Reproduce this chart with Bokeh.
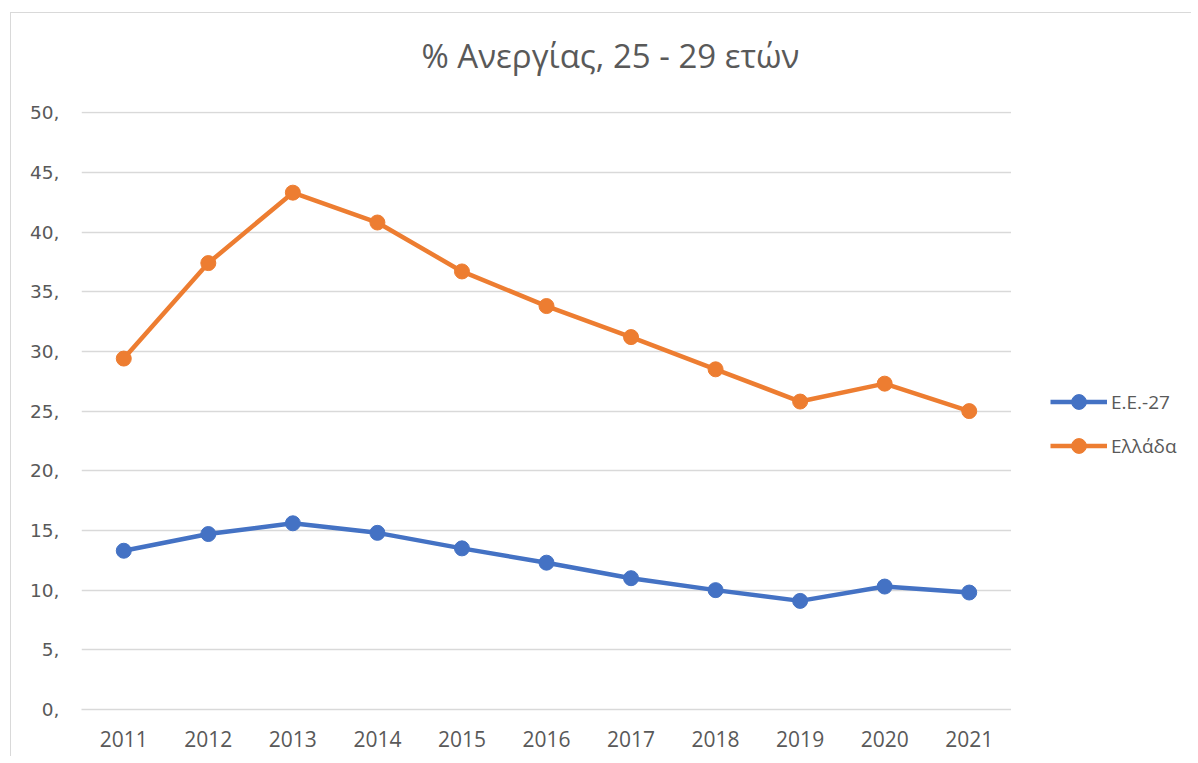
from bokeh.plotting import figure
from bokeh.layouts import row, column
from bokeh.models import (FactorRange, Range1d, Legend, LegendItem, PrintfTickFormatter,
                          FixedTicker, Label)
from bokeh.embed import file_html
from bokeh.resources import INLINE

years = ["2011", "2012", "2013", "2014", "2015", "2016", "2017", "2018", "2019", "2020", "2021"]
eu27 = [13.3, 14.7, 15.6, 14.8, 13.5, 12.3, 11.0, 10.0, 9.1, 10.3, 9.8]
greece = [29.4, 37.4, 43.3, 40.8, 36.7, 33.8, 31.2, 28.5, 25.8, 27.3, 25.0]
series_names = ["Ε.Ε.-27", "Ελλάδα"]
title_text = "% Ανεργίας, 25 - 29 ετών"
y_ticks = [0, 5, 10, 15, 20, 25, 30, 35, 40, 45, 50]

BLUE = "#4472C4"
ORANGE = "#ED7D31"
GREY_TXT = "#595959"
FONT = "Open Sans"
LW = 4.5
MS = 15


def bare(fig):
    fig.outline_line_color = None
    fig.xgrid.grid_line_color = None
    fig.ygrid.grid_line_color = None


# ---- title strip ----
tf = figure(width=1180, height=85, output_backend="svg", toolbar_location=None,
            x_axis_location=None, y_axis_location=None, min_border=0,
            x_range=Range1d(0, 1), y_range=Range1d(0, 1))
bare(tf)
tf.add_layout(Label(x=0.5076, y=0.505, text=title_text, text_align="center",
                    text_baseline="middle", text_font=FONT, text_font_size="33px",
                    text_color=GREY_TXT))

# ---- main chart ----
p = figure(width=1000, height=658, x_range=FactorRange(*years), y_range=Range1d(0, 50.1),
           output_backend="svg", toolbar_location=None,
           min_border_left=70, min_border_right=0, min_border_top=13, min_border_bottom=47)
p.outline_line_color = None

p.line(years, eu27, line_color=BLUE, line_width=LW)
p.scatter(years, eu27, size=MS, fill_color=BLUE, line_color=BLUE)
p.line(years, greece, line_color=ORANGE, line_width=LW)
p.scatter(years, greece, size=MS, fill_color=ORANGE, line_color=ORANGE)

p.xgrid.grid_line_color = None
p.ygrid.grid_line_color = "#d9d9d9"
p.ygrid.grid_line_width = 1.5
p.yaxis.ticker = FixedTicker(ticks=y_ticks)
p.yaxis.formatter = PrintfTickFormatter(format="%d,")
p.yaxis.axis_line_color = None
p.yaxis.major_tick_line_color = None
p.yaxis.minor_tick_line_color = None
p.yaxis.major_label_standoff = 16
p.yaxis.major_label_text_font = "DejaVu Sans"
p.yaxis.major_label_text_font_size = "18.5px"
p.xaxis.axis_line_color = "#d9d9d9"
p.xaxis.axis_line_width = 1.5
p.xaxis.major_tick_line_color = None
p.xaxis.minor_tick_line_color = None
p.xaxis.major_label_standoff = 15
p.xaxis.major_label_text_font = FONT
p.xaxis.major_label_text_font_size = "21px"
for ax in (p.xaxis, p.yaxis):
    ax.major_label_text_color = GREY_TXT

# ---- legend panel (series drawn off-screen, only the legend shows) ----
lg = figure(width=180, height=658, output_backend="svg", toolbar_location=None,
            x_axis_location=None, y_axis_location=None, min_border=0,
            x_range=Range1d(0, 1), y_range=Range1d(100, 101))
bare(lg)
idx = list(range(len(years)))
a1 = lg.line(idx, eu27, line_color=BLUE, line_width=LW)
b1 = lg.scatter(idx, eu27, size=MS, fill_color=BLUE, line_color=BLUE)
a2 = lg.line(idx, greece, line_color=ORANGE, line_width=LW)
b2 = lg.scatter(idx, greece, size=MS, fill_color=ORANGE, line_color=ORANGE)
legend = Legend(items=[LegendItem(label=series_names[0], renderers=[a1, b1]),
                       LegendItem(label=series_names[1], renderers=[a2, b2])],
                location=(39, 245), glyph_width=57, glyph_height=37, label_standoff=4,
                spacing=7, padding=0, margin=0, border_line_color=None,
                background_fill_alpha=0, label_text_font=FONT, label_text_font_size="19px",
                label_text_color=GREY_TXT)
lg.add_layout(legend, "center")

layout = column(tf, row(p, lg, spacing=0), spacing=0)
layout.margin = (12, 0, 0, 10)
layout.styles = {"border-left": "1px solid #d9d9d9", "border-top": "1px solid #d9d9d9"}

open("out.html", "w").write(file_html(layout, INLINE))
